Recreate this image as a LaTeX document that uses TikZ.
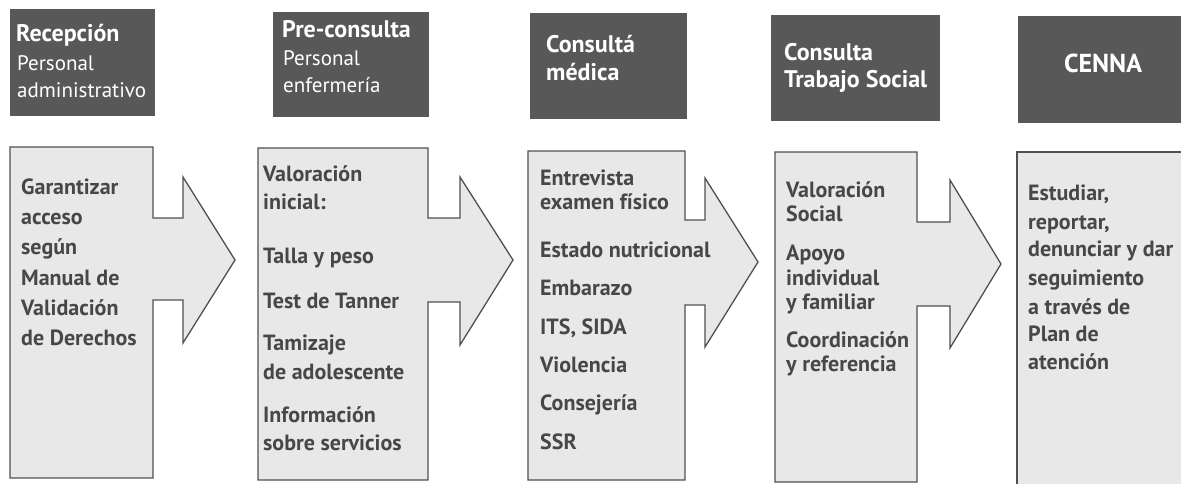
\documentclass[tikz,border=0pt]{standalone}
\usepackage{fontspec}
\setmainfont{PT Sans}
\definecolor{headgray}{HTML}{585858}
\definecolor{boxgray}{HTML}{E8E8E8}
\definecolor{linegray}{HTML}{505050}
\definecolor{textgray}{HTML}{474747}
\begin{document}
\begin{tikzpicture}[x=1pt,y=-1pt,
    headbox/.style={fill=headgray},
    stagebox/.style={fill=boxgray, draw=linegray, line width=1.3pt, line join=miter},
    headtext/.style={anchor=mid west, inner sep=0pt, text=white, font=\fontsize{21}{24}\selectfont},
    headtitle/.style={headtext, font=\fontsize{24}{26}\selectfont\bfseries},
    bodytext/.style={anchor=mid west, inner sep=0pt, text=textgray, font=\fontsize{22}{24}\selectfont\bfseries}]

    % 1. Page frame (scan is cut at the right edge)
    \useasboundingbox (0,0) rectangle (1181,483);
    \clip (0,0) rectangle (1181,483);

    % 2. Dark header boxes
    \fill [headbox] (10,9) rectangle (155,116);
    \fill [headbox] (273,12) rectangle (429,117);
    \fill [headbox] (530,13) rectangle (687,119);
    \fill [headbox] (771,15) rectangle (940,121);
    \fill [headbox] (1018,16) rectangle (1195,123);

    % 3. Header labels
    \node [headtitle] (recepcion-1) at (16,39) {Recepción};
    \foreach \y/\t [count=\i from 2] in {68/Personal, 95/administrativo}
        \node [headtext] (recepcion-\i) at (17,\y) {\t};
    \node [headtitle] (preconsulta-1) at (282,35) {Pre-consulta};
    \foreach \y/\t [count=\i from 2] in {63/Personal, 90/enfermería}
        \node [headtext] (preconsulta-\i) at (283,\y) {\t};
    \foreach \y/\t [count=\i] in {50/Consultá, 78/médica}
        \node [headtitle] (medica-\i) at (546,\y) {\t};
    \foreach \y/\t [count=\i] in {58/Consulta, 85/Trabajo Social}
        \node [headtitle] (social-\i) at (784,\y) {\t};
    \node [headtitle, anchor=mid, font=\fontsize{26}{28}\selectfont\bfseries] (cenna) at (1103,70) {CENNA};

    % 4. Stage boxes with their arrows
    \draw [stagebox] (10,147) -- (153,147) -- (153,218) -- (183,218) -- (183,177) -- (235,260)
        -- (183,343) -- (183,300) -- (153,300) -- (153,478) -- (10,478) -- cycle;
    \draw [stagebox] (258,148) -- (428,148) -- (428,218) -- (460,218) -- (460,177) -- (513,260)
        -- (460,345) -- (460,302) -- (428,302) -- (428,480) -- (258,480) -- cycle;
    \draw [stagebox] (528,151) -- (685,151) -- (685,220) -- (705,220) -- (705,178) -- (758,262)
        -- (705,347) -- (705,305) -- (685,305) -- (685,480) -- (528,480) -- cycle;
    \draw [stagebox] (775,152) -- (917,152) -- (917,222) -- (950,222) -- (950,180) -- (1001,264)
        -- (950,348) -- (950,306) -- (917,306) -- (917,482) -- (775,482) -- cycle;

    % 5. Last box, open to the right
    \fill [boxgray] (1017,152) rectangle (1195,495);
    \draw [linegray, line width=1.3pt] (1195,152) -- (1017,152) -- (1017,495);

    % 6. Text of each stage
    \foreach \y/\t [count=\i] in {192/Garantizar, 222/acceso, 252/según, 283/Manual de,
        313/Validación, 343/de Derechos}
        \node [bodytext] (recepcion-txt-\i) at (21,\y) {\t};
    \foreach \y/\t [count=\i] in {179/Valoración, 207/inicial:, 261/Talla y peso, 306/Test de Tanner,
        348/Tamizaje, 377/de adolescente, 420/Información, 448/sobre servicios}
        \node [bodytext] (preconsulta-txt-\i) at (263,\y) {\t};
    \foreach \y/\t [count=\i] in {183/Entrevista, 207/examen físico, 255/Estado nutricional,
        293/Embarazo, 332/{ITS, SIDA}, 370/Violencia, 408/Consejería, 447/SSR}
        \node [bodytext] (medica-txt-\i) at (540,\y) {\t};
    \foreach \y/\t [count=\i] in {195/Valoración, 219/Social, 258/Apoyo, 283/individual,
        307/y familiar, 345/Coordinación, 369/y referencia}
        \node [bodytext] (social-txt-\i) at (786,\y) {\t};
    \foreach \y/\t [count=\i] in {198/{Estudiar,}, 227/{reportar,}, 254/denunciar y dar,
        283/seguimiento, 312/a través de, 339/Plan de, 367/atención}
        \node [bodytext] (cenna-txt-\i) at (1028,\y) {\t};

\end{tikzpicture}
\end{document}
